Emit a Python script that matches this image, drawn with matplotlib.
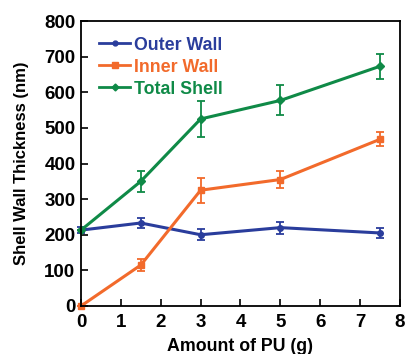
import matplotlib
matplotlib.use("Agg")
import matplotlib.pyplot as plt
from matplotlib.lines import Line2D

x = [0, 1.5, 3, 5, 7.5]
outer = [213, 233, 200, 220, 205]
outer_err = [8, 14, 15, 17, 15]
inner = [0, 115, 325, 355, 468]
inner_err = [0, 17, 35, 25, 20]
total = [213, 350, 525, 577, 673]
total_err = [0, 30, 50, 42, 35]
labels = ['Outer Wall', 'Inner Wall', 'Total Shell']

plt.rcParams['font.family'] = ['Liberation Sans', 'DejaVu Sans']
plt.rcParams['font.weight'] = 'bold'

fig = plt.figure(figsize=(4.06, 3.54), dpi=100)
ax = fig.add_axes([81/406, 1-306/354, 319/406, 285/354])

c_outer = '#2a3d9c'
c_inner = '#f26a2b'
c_total = '#0f8a47'
colors = [c_outer, c_inner, c_total]
markers = ['o', 's', 'D']
sizes = [4, 5, 4]

for ys, es, c, m, s in zip([outer, inner, total], [outer_err, inner_err, total_err], colors, markers, sizes):
    ax.errorbar(x, ys, yerr=es, color=c, marker=m, ms=s, lw=2.2,
                capsize=3, elinewidth=1.3, capthick=1.3, clip_on=False)

ax.set_xlim(0, 8)
ax.set_ylim(0, 800)
ax.set_xticks(range(0, 9))
ax.set_yticks(range(0, 801, 100))
ax.tick_params(direction='in', labelsize=13.5, width=1.2, length=5)
ax.tick_params(axis='x', pad=6)
ax.tick_params(axis='y', pad=4)
for sp in ax.spines.values():
    sp.set_linewidth(1.3)
ax.set_xlabel('Amount of PU (g)', fontsize=12.8, fontweight='bold', labelpad=5)
ax.set_ylabel('Shell Wall Thickness (nm)', fontsize=12, fontweight='bold', labelpad=11)

handles = [Line2D([0], [0], color=c, marker=m, ms=s - 0.5, lw=2.0) for c, m, s in zip(colors, markers, sizes)]
leg = ax.legend(handles, labels, loc='upper left', frameon=False, fontsize=12.8,
                handlelength=1.75, handletextpad=0.2, borderaxespad=0.0,
                labelspacing=0.28, bbox_to_anchor=(0.035, 0.97))
for t, c in zip(leg.get_texts(), colors):
    t.set_color(c)

fig.savefig('out.png', dpi=100)
